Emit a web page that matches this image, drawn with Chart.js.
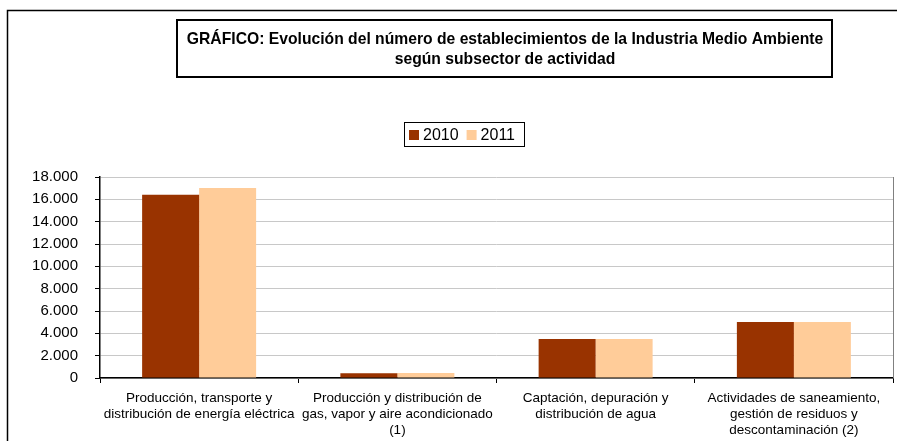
<!DOCTYPE html>
<html>
<head>
<meta charset="utf-8">
<script src="https://cdn.jsdelivr.net/npm/chart.js@4/dist/chart.umd.min.js"></script>
<style>
html,body{margin:0;padding:0;background:#fff;}
#wrap{position:relative;width:897px;height:441px;}
</style>
</head>
<body>
<div id="wrap"><canvas id="c" width="897" height="441"></canvas></div>
<script>
const titleLines = ["GRÁFICO: Evolución del número de establecimientos de la Industria Medio Ambiente", "según subsector de actividad"];
const categories = [
  ["Producción, transporte y", "distribución de energía eléctrica"],
  ["Producción y distribución de", "gas, vapor y aire acondicionado", "(1)"],
  ["Captación, depuración y", "distribución de agua"],
  ["Actividades de saneamiento,", "gestión de residuos y", "descontaminación (2)"]
];
const seriesNames = ["2010", "2011"];
const values2010 = [16400, 430, 3500, 5020];
const values2011 = [17020, 440, 3490, 5010];
const seriesColors = ["#993300", "#FFCC99"];
const yMax = 18000;
const yStep = 2000;

const fmt = v => String(v).replace(/\B(?=(\d{3})+(?!\d))/g, ".");

const decor = {
  id: 'decor',
  afterDraw(chart) {
    const ctx = chart.ctx;
    const ca = chart.chartArea;
    ctx.save();
    // outer frame
    ctx.strokeStyle = '#000';
    ctx.lineWidth = 1.5;
    ctx.beginPath();
    ctx.moveTo(7.5, 441);
    ctx.lineTo(7.5, 10.5);
    ctx.lineTo(897, 10.5);
    ctx.stroke();
    // plot area right border
    ctx.strokeStyle = '#808080';
    ctx.lineWidth = 1;
    ctx.beginPath();
    ctx.moveTo(Math.round(ca.right) + 0.5, ca.top);
    ctx.lineTo(Math.round(ca.right) + 0.5, ca.bottom);
    ctx.stroke();
    // title box
    ctx.strokeStyle = '#000';
    ctx.lineWidth = 2;
    ctx.strokeRect(177, 20, 655, 57);
    ctx.fillStyle = '#000';
    ctx.font = 'bold 15.7px "Liberation Sans", Arial, sans-serif';
    ctx.textAlign = 'center';
    ctx.textBaseline = 'middle';
    ctx.fillText(titleLines[0], 505, 40);
    ctx.fillText(titleLines[1], 505, 60);
    // legend
    ctx.lineWidth = 1;
    ctx.strokeStyle = '#000';
    ctx.strokeRect(404.5, 122.5, 120, 24);
    ctx.font = '16px "Liberation Sans", Arial, sans-serif';
    ctx.textAlign = 'left';
    let x = 409;
    chart.data.datasets.forEach((ds) => {
      ctx.fillStyle = ds.backgroundColor;
      ctx.fillRect(x, 130, 10, 10);
      ctx.fillStyle = '#000';
      ctx.fillText(ds.label, x + 14, 135.5);
      x += 14 + ctx.measureText(ds.label).width + 8;
    });
    ctx.restore();
  }
};

new Chart(document.getElementById('c'), {
  type: 'bar',
  data: {
    labels: categories,
    datasets: [
      { label: seriesNames[0], data: values2010, backgroundColor: seriesColors[0] },
      { label: seriesNames[1], data: values2011, backgroundColor: seriesColors[1] }
    ]
  },
  options: {
    responsive: false,
    animation: false,
    devicePixelRatio: 1,
    layout: { padding: { top: 177, right: 4, left: 0, bottom: 0 } },
    plugins: { legend: { display: false }, title: { display: false }, tooltip: { enabled: false } },
    datasets: { bar: { barPercentage: 1.0, categoryPercentage: 0.575 } },
    scales: {
      x: {
        grid: { offset: true, drawOnChartArea: false, drawTicks: true, tickLength: 5, tickColor: '#000' },
        border: { color: '#000', width: 1.5 },
        ticks: {
          color: '#000', maxRotation: 0, minRotation: 0, autoSkip: false, padding: 7,
          font: { family: '"Liberation Sans", Arial, sans-serif', size: 13.5, lineHeight: 1.2 }
        },
        afterFit(s) { s.height = 63; }
      },
      y: {
        min: 0, max: yMax,
        grid: { color: '#c8c8c8', tickColor: '#000', tickLength: 5, lineWidth: 1 },
        border: { color: '#000', width: 1.5 },
        ticks: {
          stepSize: yStep, color: '#000', padding: 17,
          font: { family: '"Liberation Sans", Arial, sans-serif', size: 15 },
          callback: v => fmt(v)
        },
        afterFit(s) { s.width = 100; }
      }
    }
  },
  plugins: [decor]
});
</script>
</body>
</html>
